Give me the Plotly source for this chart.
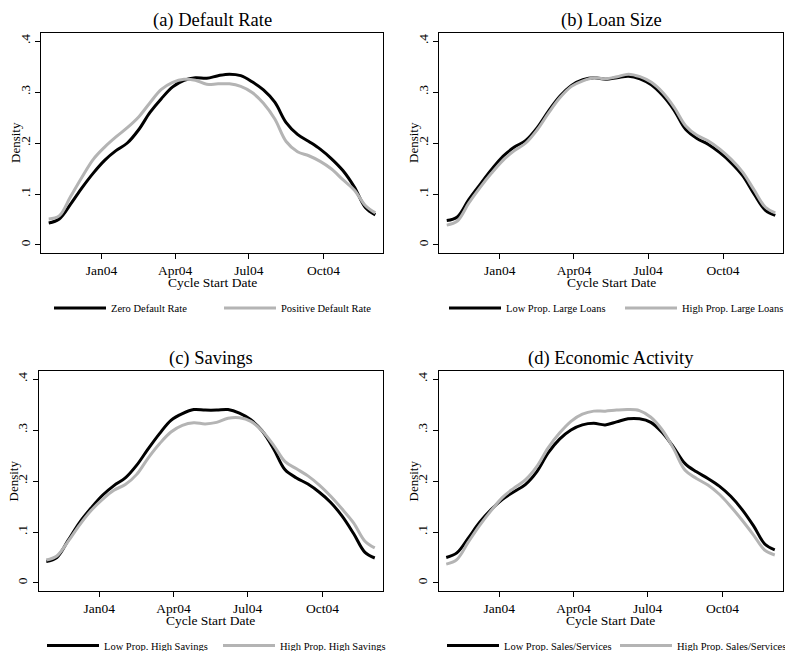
import plotly.graph_objects as go

# ---------------- data ----------------
dates = ["2003-10-28", "2003-11-10", "2003-11-24", "2003-12-08", "2003-12-22",
         "2004-01-05", "2004-01-19", "2004-02-02", "2004-02-16", "2004-03-01",
         "2004-03-15", "2004-03-29", "2004-04-12", "2004-04-26", "2004-05-10",
         "2004-05-24", "2004-06-07", "2004-06-21", "2004-07-05", "2004-07-19",
         "2004-08-02", "2004-08-16", "2004-08-30", "2004-09-13", "2004-09-27",
         "2004-10-11", "2004-10-25", "2004-11-08", "2004-11-22", "2004-12-04"]

zero_default = [0.043, 0.051, 0.080, 0.112, 0.141, 0.166, 0.185, 0.200, 0.226, 0.260,
                0.287, 0.310, 0.323, 0.328, 0.327, 0.332, 0.335, 0.332, 0.320, 0.304,
                0.280, 0.240, 0.217, 0.203, 0.188, 0.169, 0.146, 0.114, 0.073, 0.059]
pos_default = [0.051, 0.057, 0.095, 0.133, 0.168, 0.192, 0.212, 0.230, 0.251, 0.279,
               0.305, 0.319, 0.325, 0.323, 0.315, 0.316, 0.316, 0.311, 0.299, 0.278,
               0.247, 0.203, 0.183, 0.175, 0.164, 0.149, 0.128, 0.108, 0.077, 0.063]

low_large = [0.048, 0.055, 0.089, 0.119, 0.148, 0.174, 0.192, 0.205, 0.230, 0.263,
             0.292, 0.313, 0.324, 0.328, 0.325, 0.328, 0.331, 0.326, 0.314, 0.293,
             0.264, 0.227, 0.209, 0.197, 0.181, 0.161, 0.136, 0.100, 0.068, 0.058]
high_large = [0.039, 0.047, 0.082, 0.113, 0.141, 0.166, 0.185, 0.200, 0.226, 0.259,
              0.289, 0.311, 0.322, 0.328, 0.326, 0.330, 0.335, 0.330, 0.319, 0.299,
              0.270, 0.234, 0.215, 0.204, 0.188, 0.168, 0.143, 0.108, 0.074, 0.063]

low_sav = [0.042, 0.050, 0.084, 0.119, 0.147, 0.172, 0.191, 0.206, 0.231, 0.263,
           0.293, 0.319, 0.332, 0.340, 0.339, 0.339, 0.340, 0.333, 0.320, 0.298,
           0.263, 0.222, 0.206, 0.194, 0.178, 0.158, 0.131, 0.097, 0.060, 0.049]
high_sav = [0.045, 0.053, 0.082, 0.114, 0.142, 0.164, 0.182, 0.193, 0.213, 0.245,
            0.273, 0.296, 0.309, 0.314, 0.312, 0.315, 0.323, 0.324, 0.317, 0.298,
            0.270, 0.238, 0.224, 0.210, 0.192, 0.170, 0.145, 0.118, 0.082, 0.069]

low_sales = [0.050, 0.059, 0.088, 0.119, 0.144, 0.164, 0.179, 0.193, 0.218, 0.255,
             0.282, 0.300, 0.310, 0.313, 0.310, 0.316, 0.322, 0.322, 0.315, 0.295,
             0.266, 0.234, 0.218, 0.205, 0.190, 0.170, 0.144, 0.112, 0.076, 0.065]
high_sales = [0.037, 0.046, 0.080, 0.113, 0.142, 0.168, 0.186, 0.202, 0.228, 0.265,
              0.294, 0.317, 0.331, 0.337, 0.337, 0.339, 0.340, 0.338, 0.325, 0.300,
              0.263, 0.221, 0.205, 0.192, 0.174, 0.150, 0.123, 0.094, 0.064, 0.055]

titles = ["(a) Default Rate", "(b) Loan Size", "(c) Savings", "(d) Economic Activity"]
series_names = [("Zero Default Rate", "Positive Default Rate"),
                ("Low Prop. Large Loans", "High Prop. Large Loans"),
                ("Low Prop. High Savings", "High Prop. High Savings"),
                ("Low Prop. Sales/Services", "High Prop. Sales/Services")]
series_vals = [(zero_default, pos_default), (low_large, high_large),
               (low_sav, high_sav), (low_sales, high_sales)]

xtick_vals = ["2004-01-01", "2004-04-01", "2004-07-01", "2004-10-01"]
xtick_text = ["Jan04", "Apr04", "Jul04", "Oct04"]
ytick_vals = [0, 0.1, 0.2, 0.3, 0.4]
ytick_text = ["0", ".1", ".2", ".3", ".4"]

# ---------------- layout ----------------
W, H = 785, 651
FONT = "Liberation Serif, Times New Roman, serif"
BLACK = "#000000"
GRAY = "#b4b4b4"

# plot boxes in pixels (left, right, top, bottom)
boxes = [(41, 383, 33, 253), (439, 783, 33, 253),
         (38.5, 382.5, 371, 591), (438.5, 782.5, 371, 591)]
legend_pos = [(49, 308), (444, 308), (42, 645.5), (442, 645.5)]
entry_w = [103, 109, 109, 106]

fig = go.Figure()
layout = dict(width=W, height=H, margin=dict(l=0, r=0, t=0, b=0, autoexpand=False),
              paper_bgcolor="white", plot_bgcolor="white",
              font=dict(family=FONT, color="black", size=13))
annotations = []

for i in range(4):
    n = "" if i == 0 else str(i + 1)
    xa, ya = "x" + n, "y" + n
    leg = "legend" + n
    l, r, t, b = boxes[i]
    for name, vals, col in zip(series_names[i], series_vals[i], (BLACK, GRAY)):
        fig.add_trace(go.Scatter(x=dates, y=vals, mode="lines", name=name,
                                 line=dict(color=col, width=3, shape="spline", smoothing=1),
                                 xaxis=xa, yaxis=ya, legend=leg, showlegend=True,
                                 hoverinfo="skip"))
    axcommon = dict(showgrid=False, zeroline=False, showline=True, linecolor="black",
                    linewidth=1, mirror=True, ticks="outside", ticklen=5, tickwidth=1,
                    tickcolor="black", tickfont=dict(family=FONT, size=13.5, color="black"))
    layout["xaxis" + n] = dict(axcommon, domain=[l / W, r / W], anchor=ya, type="date",
                               range=["2003-10-18 12:00", "2004-12-13 12:00"],
                               tickmode="array", tickvals=xtick_vals, ticktext=xtick_text)
    layout["yaxis" + n] = dict(axcommon, domain=[1 - b / H, 1 - t / H], anchor=xa,
                               range=[-0.0157, 0.4157], tickmode="array",
                               tickvals=ytick_vals, ticktext=ytick_text, tickangle=-90)
    lx, ly = legend_pos[i]
    layout[leg] = dict(orientation="h", x=lx / W, y=1 - ly / H, xanchor="left",
                       yanchor="middle", bgcolor="rgba(0,0,0,0)", borderwidth=0,
                       font=dict(family=FONT, size=10.5, color="black"),
                       entrywidth=entry_w[i], entrywidthmode="pixels", itemwidth=52,
                       tracegroupgap=0)
    xd, yd = xa + " domain", ya + " domain"
    annotations.append(dict(text=titles[i], x=0.5, y=1, xref=xd, yref=yd, xanchor="center",
                            yanchor="middle", yshift=12.5, showarrow=False,
                            font=dict(family=FONT, size=18.5, color="black")))
    annotations.append(dict(text="Cycle Start Date", x=0.5, y=0, xref=xd, yref=yd,
                            xanchor="center", yanchor="middle", yshift=-29, showarrow=False,
                            font=dict(family=FONT, size=13.5, color="black")))
    annotations.append(dict(text="Density", x=0, y=0.5, xref=xd, yref=yd, xanchor="center",
                            yanchor="middle", xshift=-26, textangle=-90, showarrow=False,
                            font=dict(family=FONT, size=13, color="black")))

layout["annotations"] = annotations
fig.update_layout(**layout)
fig.write_html("out.html", config={"displayModeBar": False, "staticPlot": True},
               post_script="document.body.style.margin='0px';document.body.style.overflow='hidden';")
